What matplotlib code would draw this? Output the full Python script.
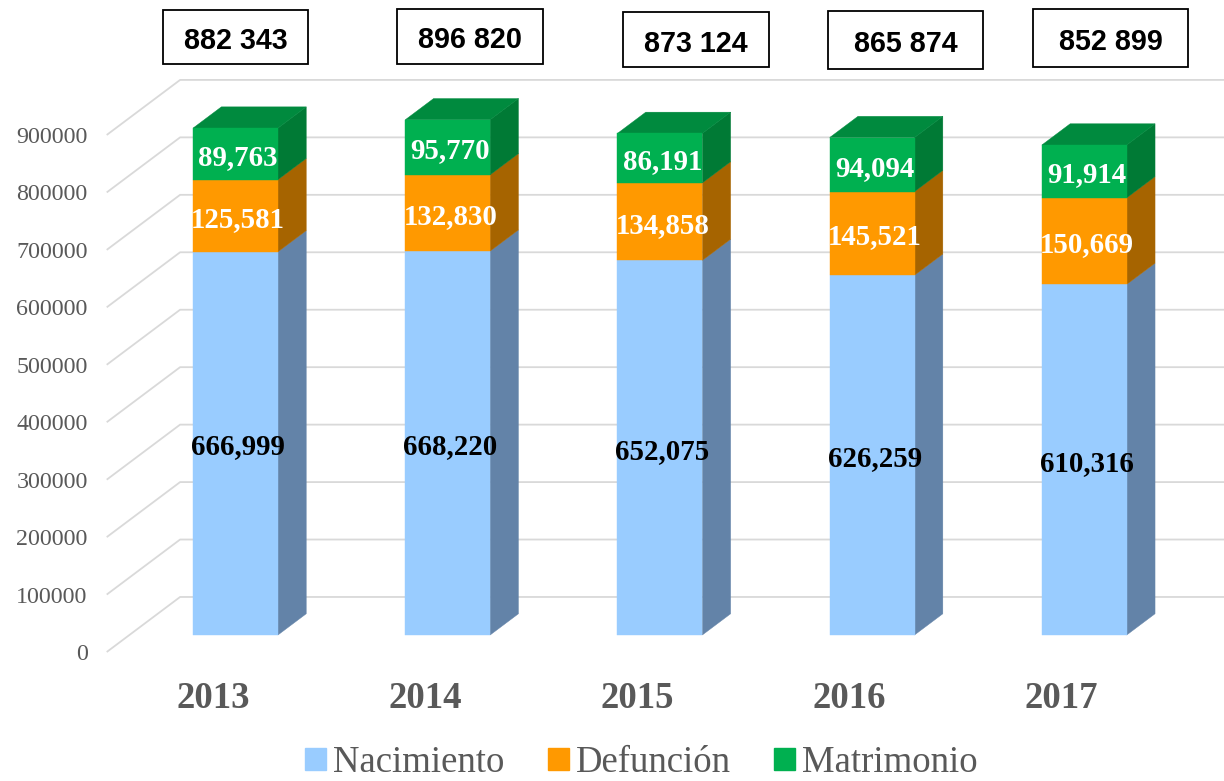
import numpy as np
import matplotlib.pyplot as plt
from matplotlib.patches import Rectangle, Polygon, Patch

years = ['2013', '2014', '2015', '2016', '2017']
nacimiento = [666999, 668220, 652075, 626259, 610316]
defuncion = [125581, 132830, 134858, 145521, 150669]
matrimonio = [89763, 95770, 86191, 94094, 91914]
series_names = ['Nacimiento', 'Defunción', 'Matrimonio']
yticks = [0, 100000, 200000, 300000, 400000, 500000, 600000, 700000, 800000, 900000]

front_colors = ['#99CCFF', '#FF9900', '#00B050']
side_colors = ['#6383A8', '#A66400', '#007A35']
top_color = '#008A3E'
label_colors = ['black', 'white', 'white']
grid_color = '#D9D9D9'
text_gray = '#595959'

# figure in pixels: 1224 x 781
W, H = 1224, 781
fig = plt.figure(figsize=(W / 100, H / 100), dpi=100)
ax = fig.add_axes([0, 0, 1, 1])
ax.axis('off')

px_cat = 212.2            # pixels per category
upx = 100000 / 57.45      # value units per pixel
x0_px, y0_px = 235.5, 635  # where category 0 / value 0 sits (front of bars)
ax.set_xlim(-x0_px / px_cat, (W - x0_px) / px_cat)
ax.set_ylim(-(H - y0_px) * upx, y0_px * upx)


def depth(z):
    # oblique projection: z pixels of depth go right and up
    return z / px_cat, 0.75 * z * upx


z_front, z_bar, z_wall = -22.7, 28.3, 50.7
bw = 0.4

# walls gridlines (left wall diagonal + back wall horizontal)
fx, fy = depth(z_front)
wx, wy = depth(z_wall)
xright = ax.get_xlim()[1]
for v in yticks:
    ax.plot([-0.5 + fx, -0.5 + wx, xright], [v + fy, v + wy, v + wy],
            color=grid_color, lw=1.3, zorder=1, solid_capstyle='butt')
    ax.text(-0.5 + fx - 19 / px_cat, v + fy - 8 * upx, str(v), ha='right', va='baseline',
            fontsize=17.3, family='Liberation Serif', color=text_gray)

# 3D stacked bars
dx, dy = depth(z_bar)
stack = np.array([nacimiento, defuncion, matrimonio])
totals = stack.sum(axis=0)
for i in range(len(years)):
    bottom = 0
    for s in range(3):
        val = stack[s, i]
        top = bottom + val
        xl, xr = i - bw / 2, i + bw / 2
        ax.add_patch(Polygon([(xr, bottom), (xr + dx, bottom + dy), (xr + dx, top + dy), (xr, top)],
                             closed=True, fc=side_colors[s], ec=side_colors[s], lw=0.3, zorder=3))
        ax.add_patch(Rectangle((xl, bottom), bw, val, fc=front_colors[s], ec=front_colors[s],
                               lw=0.3, zorder=4))
        ax.text(i + 2.5 / px_cat, bottom + val / 2 - 11 * upx, f'{val:,}', ha='center', va='baseline',
                fontsize=20.8, fontweight='bold', family='Liberation Serif',
                color=label_colors[s], zorder=6)
        bottom = top
    ax.add_patch(Polygon([(i - bw / 2, bottom), (i + bw / 2, bottom), (i + bw / 2 + dx, bottom + dy),
                          (i - bw / 2 + dx, bottom + dy)], closed=True, fc=top_color, ec=top_color,
                         lw=0.3, zorder=3))
    # category label
    ax.text(i + fx, fy - 56 * upx, years[i], ha='center', va='baseline', fontsize=26.5,
            fontweight='bold', family='Liberation Serif', color=text_gray)

# total boxes (manually placed in the original)
boxes = [(163, 308, 10, 64), (397, 543, 9, 64), (623, 769, 12, 67), (828, 983, 11, 69), (1033, 1188, 9, 67)]
for (bx0, bx1, by0, by1), t in zip(boxes, totals):
    fig.patches.append(Rectangle((bx0 / W, 1 - by1 / H), (bx1 - bx0) / W, (by1 - by0) / H,
                                 transform=fig.transFigure, fc='white', ec='black', lw=1.3))
    fig.text((bx0 + bx1) / 2 / W, 1 - ((by0 + by1) / 2 + 12) / H, f'{t:,}'.replace(',', ' '),
             ha='center', va='baseline', fontsize=20.7, fontweight='bold',
             family='Liberation Sans', color='black')

handles = [Patch(color=c) for c in front_colors]
leg = ax.legend(handles, series_names, ncol=3, loc='center', bbox_to_anchor=(0.524, 0.0235),
                bbox_transform=fig.transFigure, frameon=False, borderpad=0,
                prop={'family': 'Liberation Serif', 'size': 26.5},
                handlelength=0.57, handleheight=0.57, handletextpad=0.19, columnspacing=1.17,
                labelcolor=text_gray)

fig.savefig('out.png', dpi=100)
